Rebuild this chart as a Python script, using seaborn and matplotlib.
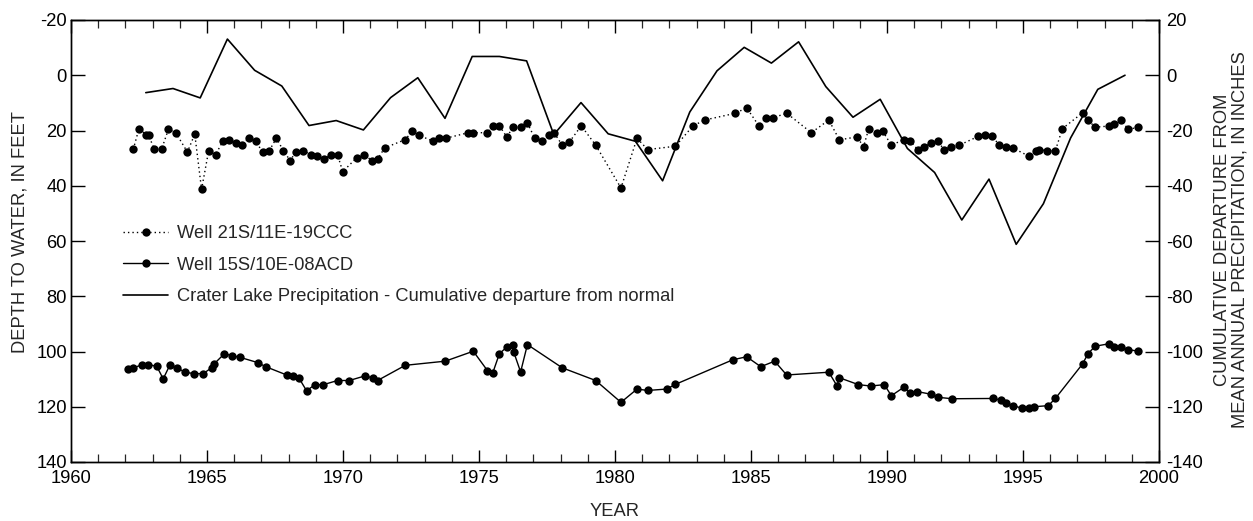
import matplotlib
matplotlib.use("Agg")
import matplotlib.pyplot as plt
from matplotlib.ticker import MultipleLocator
import seaborn as sns
import pandas as pd

# Well 21S/11E-19CCC: decimal year and depth to water (ft)
well_a_year = [1962.29, 1962.50, 1962.76, 1962.86, 1963.06, 1963.33, 1963.58, 1963.85, 1964.28, 1964.55,
               1964.80, 1965.06, 1965.32, 1965.58, 1965.81, 1966.07, 1966.27, 1966.53, 1966.79, 1967.05,
               1967.29, 1967.55, 1967.81, 1968.06, 1968.26, 1968.52, 1968.82, 1969.03, 1969.29, 1969.55,
               1969.80, 1969.99, 1970.51, 1970.76, 1971.08, 1971.27, 1971.53, 1972.29, 1972.55, 1972.81,
               1973.32, 1973.53, 1973.78, 1974.61, 1974.79, 1975.31, 1975.50, 1975.75, 1976.02, 1976.26,
               1976.53, 1976.78, 1977.05, 1977.31, 1977.56, 1977.76, 1978.06, 1978.32, 1978.76, 1979.29,
               1980.22, 1980.81, 1981.20, 1982.22, 1982.87, 1983.30, 1984.41, 1984.84, 1985.29, 1985.55,
               1985.81, 1986.32, 1987.22, 1987.86, 1988.25, 1988.89, 1989.14, 1989.33, 1989.64, 1989.84,
               1990.16, 1990.62, 1990.86, 1991.13, 1991.37, 1991.63, 1991.89, 1992.08, 1992.34, 1992.66,
               1993.36, 1993.60, 1993.87, 1994.13, 1994.38, 1994.62, 1995.22, 1995.47, 1995.60, 1995.87,
               1996.19, 1996.45, 1997.19, 1997.39, 1997.65, 1998.16, 1998.36, 1998.61, 1998.87, 1999.24]
well_a_depth = [26.8, 19.3, 21.5, 21.8, 26.8, 26.8, 19.6, 20.8, 27.8, 21.3,
                41.3, 27.4, 28.7, 23.9, 23.3, 24.7, 25.3, 22.8, 23.9, 27.9,
                27.3, 22.8, 27.3, 30.9, 27.8, 27.3, 28.7, 29.3, 30.4, 28.8,
                28.8, 34.9, 29.8, 28.8, 30.9, 30.4, 26.3, 23.3, 20.2, 21.8,
                23.9, 22.8, 22.8, 20.8, 20.8, 20.8, 18.3, 18.3, 22.3, 18.8,
                18.8, 17.3, 22.8, 23.9, 21.8, 20.8, 25.3, 24.2, 18.3, 25.3,
                40.8, 22.8, 26.9, 25.7, 18.3, 16.2, 13.8, 11.8, 18.3, 15.3,
                15.3, 13.8, 20.8, 16.2, 23.4, 22.3, 25.8, 19.3, 20.8, 20.2,
                25.3, 23.3, 23.9, 26.9, 25.8, 24.4, 23.9, 26.9, 25.8, 25.3,
                22.1, 21.5, 22.1, 25.3, 26.1, 26.3, 29.3, 27.3, 26.9, 27.3,
                27.3, 19.3, 13.6, 16.2, 18.8, 18.4, 17.8, 16.2, 19.6, 18.8]

# Well 15S/10E-08ACD: decimal year and depth to water (ft)
well_b_year = [1962.11, 1962.29, 1962.62, 1962.84, 1963.15, 1963.39, 1963.64, 1963.91, 1964.18, 1964.53,
               1964.86, 1965.17, 1965.26, 1965.64, 1965.91, 1966.21, 1966.86, 1967.16, 1967.93, 1968.17,
               1968.38, 1968.66, 1968.97, 1969.28, 1969.80, 1970.23, 1970.82, 1971.09, 1971.27, 1972.29,
               1973.76, 1974.79, 1975.31, 1975.50, 1975.75, 1976.02, 1976.26, 1976.27, 1976.53, 1976.78,
               1978.06, 1979.29, 1980.22, 1980.81, 1981.20, 1981.90, 1982.22, 1984.33, 1984.84, 1985.36,
               1985.87, 1986.31, 1987.86, 1988.16, 1988.25, 1988.95, 1989.40, 1989.90, 1990.16, 1990.61,
               1990.86, 1991.11, 1991.63, 1991.89, 1992.40, 1993.91, 1994.18, 1994.38, 1994.64, 1994.95,
               1995.22, 1995.40, 1995.93, 1996.19, 1997.19, 1997.39, 1997.65, 1998.16, 1998.36, 1998.61,
               1998.87, 1999.24]
well_b_depth = [106.5, 105.9, 104.8, 104.8, 105.3, 109.9, 104.8, 105.9, 107.5, 108.0,
                108.0, 105.9, 104.5, 100.8, 101.5, 102.1, 104.0, 105.5, 108.5, 109.0,
                109.6, 114.2, 112.0, 112.0, 110.5, 110.5, 108.8, 109.6, 110.5, 105.0,
                103.5, 99.9, 106.9, 107.9, 100.8, 98.4, 97.8, 100.0, 107.4, 97.5,
                105.9, 110.5, 118.4, 113.6, 114.1, 113.6, 111.9, 103.0, 101.9, 105.5,
                103.5, 108.5, 107.5, 112.4, 109.5, 112.0, 112.5, 112.0, 116.0, 113.0,
                115.0, 114.5, 115.5, 116.6, 117.1, 117.0, 117.6, 118.7, 119.6, 120.5,
                120.5, 120.0, 119.6, 117.0, 104.5, 100.8, 98.1, 97.2, 98.4, 98.4,
                99.3, 99.9]

# Crater Lake precipitation, cumulative departure from normal (in), end of water year
precip_year = [1962.75, 1963.75, 1964.75, 1965.75, 1966.75, 1967.75, 1968.75, 1969.75, 1970.75, 1971.75,
               1972.75, 1973.75, 1974.75, 1975.75, 1976.75, 1977.75, 1978.75, 1979.75, 1980.75, 1981.75,
               1982.75, 1983.75, 1984.75, 1985.75, 1986.75, 1987.75, 1988.75, 1989.75, 1990.75, 1991.75,
               1992.75, 1993.75, 1994.75, 1995.75, 1996.75, 1997.75, 1998.75]
precip_departure = [-6.3, -4.8, -8.2, 13.1, 1.8, -3.9, -18.2, -16.4, -19.8, -8.1,
                    -0.9, -15.6, 6.8, 6.8, 5.2, -21.5, -9.9, -21.2, -23.9, -38.2,
                    -13.3, 1.6, 10.1, 4.4, 12.1, -4.1, -15.2, -8.7, -26.5, -35.2,
                    -52.4, -37.6, -61.2, -46.5, -22.7, -5.1, 0.0]

label_a = "Well 21S/11E-19CCC"
label_b = "Well 15S/10E-08ACD"
label_p = "Crater Lake Precipitation - Cumulative departure from normal"

df_a = pd.DataFrame({"year": well_a_year, "depth": well_a_depth})
df_b = pd.DataFrame({"year": well_b_year, "depth": well_b_depth})
df_p = pd.DataFrame({"year": precip_year, "departure": precip_departure})

sns.set_theme(style="ticks")
plt.rcParams["font.family"] = ["Liberation Sans", "DejaVu Sans"]
plt.rcParams["axes.unicode_minus"] = False

FS = 13.2
W, H = 1253, 521

fig = plt.figure(figsize=(W / 100, H / 100), dpi=100)
ax = fig.add_axes([71 / W, 1 - 462 / H, (1159 - 71) / W, (462 - 20) / H])

sns.lineplot(data=df_a, x="year", y="depth", ax=ax, sort=False, estimator=None,
             color="black", linewidth=1.0, dashes=False, linestyle=(0, (1, 2.2)),
             marker="o", markersize=6, markeredgewidth=0, label=label_a)
sns.lineplot(data=df_b, x="year", y="depth", ax=ax, sort=False, estimator=None,
             color="black", linewidth=1.0, marker="o", markersize=6,
             markeredgewidth=0, label=label_b)

ax2 = ax.twinx()
sns.lineplot(data=df_p, x="year", y="departure", ax=ax2, sort=False, estimator=None,
             color="black", linewidth=1.2, label=label_p)

ax.set_xlim(1960, 2000)
ax.set_ylim(140, -20)
ax2.set_ylim(-140, 20)

ax.xaxis.set_major_locator(MultipleLocator(5))
ax.xaxis.set_minor_locator(MultipleLocator(1))
ax.yaxis.set_major_locator(MultipleLocator(20))
ax2.yaxis.set_major_locator(MultipleLocator(20))

for a in (ax, ax2):
    for s in a.spines.values():
        s.set_visible(True)
        s.set_color("black")
        s.set_linewidth(1.0)

ax.tick_params(axis="x", which="major", direction="in", length=9, width=1.0,
               top=True, bottom=True, labelsize=FS, pad=6, colors="black")
ax.tick_params(axis="x", which="minor", direction="in", length=6, width=0.9,
               top=True, bottom=True)
ax.tick_params(axis="y", which="major", direction="in", length=10, width=1.0,
               left=True, right=False, labelsize=FS, pad=3, colors="black")
ax2.tick_params(axis="y", which="major", direction="in", length=10, width=1.0,
                right=True, left=False, labelsize=FS, pad=5, colors="black")

ax.set_xlabel("")
ax.set_ylabel("")
ax2.set_ylabel("")
fig.text(615 / W, 1 - 511 / H, "YEAR", fontsize=FS, ha="center", va="center")
fig.text(20 / W, 1 - 232 / H, "DEPTH TO WATER, IN FEET", fontsize=FS,
         rotation=90, ha="center", va="center")
fig.text(1231 / W, 1 - 240 / H,
         "CUMULATIVE DEPARTURE FROM\nMEAN ANNUAL PRECIPITATION, IN INCHES",
         fontsize=FS, rotation=90, ha="center", va="center",
         multialignment="center", linespacing=1.05)

ax.grid(False)
ax2.grid(False)

h1, l1 = ax.get_legend_handles_labels()
h2, l2 = ax2.get_legend_handles_labels()
ax2.get_legend().remove()
ax.get_legend().remove()
leg = ax.legend(h1 + h2, l1 + l2, loc="upper left", bbox_to_anchor=(0.048, 0.536),
                frameon=False, fontsize=FS, handlelength=2.45, handletextpad=0.5,
                labelspacing=0.8, borderpad=0, borderaxespad=0, numpoints=1)

fig.savefig("out.png", dpi=100)
